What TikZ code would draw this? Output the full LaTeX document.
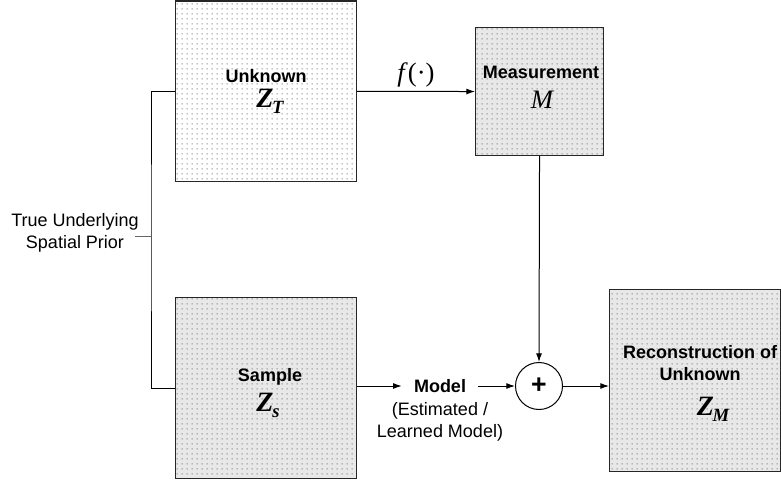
\documentclass[tikz,border=0pt]{standalone}
\usepackage{fontspec}
\setmainfont{Liberation Sans}
\newfontfamily\serifit{Liberation Serif}
\usetikzlibrary{arrows.meta,patterns}

% fine dot screen used inside the blocks
\pgfdeclarepatternformonly{boxdots}{\pgfqpoint{0pt}{0pt}}{\pgfqpoint{3.75pt}{3.75pt}}{\pgfqpoint{3.75pt}{3.75pt}}{%
  \pgfpathrectangle{\pgfqpoint{1.35pt}{1.35pt}}{\pgfqpoint{0.9pt}{0.9pt}}\pgfusepath{fill}}

\newcommand{\bigZ}[1]{{\fontsize{21}{23}\serifit\bfseries\itshape Z\kern-1pt\raisebox{-4.5pt}{\fontsize{14}{14}\selectfont #1}}}

\tikzset{
  block/.style={draw=black!85, line width=0.8pt, preaction={fill=#1},
    pattern=boxdots, pattern color=black!55, inner sep=0pt, anchor=north west},
  lbl/.style={font=\fontsize{13.5}{16}\selectfont, align=center, inner sep=1pt},
  blbl/.style={lbl, font=\fontsize{13.5}{16}\selectfont\bfseries},
  conn/.style={line width=0.75pt, -{Latex[length=6.5pt,width=4.5pt]}},
  wire/.style={line width=0.75pt}
}

\begin{document}
\begin{tikzpicture}[x=0.75pt,y=-0.75pt]
\useasboundingbox (0,0) rectangle (781,481);

% blocks
\node[block=white,   minimum width=135.75pt, minimum height=135.4pt] (unk)  at (175,0.5) {};
\node[block=gray!18, minimum width=96pt,     minimum height=96pt]    (meas) at (475,27)  {};
\node[block=gray!18, minimum width=135.75pt, minimum height=135.75pt] (smp) at (175,297) {};
\node[block=gray!18, minimum width=128.25pt, minimum height=136.5pt] (rec)  at (609,289) {};

% block texts
\node[blbl] (unkT)  at (266,76) {Unknown};
\node[inner sep=0pt] (unkZ) at (270,101) {\bigZ{T}};
\node[blbl] (measT) at (541,72) {Measurement};
\node[inner sep=0pt] (measM) at (542,100) {\fontsize{20}{22}\serifit\itshape M};
\node[blbl] (smpT)  at (270,377) {Sample};
\node[inner sep=0pt] (smpZ) at (268,405) {\bigZ{s}};
\node[blbl, align=center] (recT) at (700,363) {Reconstruction of\\Unknown};
\node[inner sep=0pt] (recZ) at (713,409) {\bigZ{M}};

% left bracket with its label
\node[lbl] (prior) at (75,233) {True Underlying\\Spatial Prior};
\coordinate (brk) at (151,236);
\coordinate (tick) at (135,236);
\draw[wire] (unk.west) -| (brk) |- (smp.west);
\draw[wire, black!60] (tick) -- (brk);

% forward model
\draw[conn] (unk.east) -- node[above=3pt, inner sep=0pt, font=\fontsize{20}{22}\serifit] (fmap) {\itshape f\/\upshape(\textperiodcentered)} (meas.west);

% summing junction
\node[draw, circle, line width=0.75pt, minimum size=35.25pt, inner sep=0pt, fill=white,
      font=\fontsize{20}{22}\selectfont\bfseries] (sum) at (539,386) {+};
\draw[conn] (meas.south) -- (sum.north);

% learned model
\node[blbl, inner sep=9pt] (model) at (440,386) {Model};
\node[lbl] (modelsub) at (440,422) {(Estimated /\\Learned Model)};
\draw[conn] (smp.east |- model.west) -- (model.west);
\draw[conn] (model.east) -- (sum.west);
\draw[conn] (sum.east) -- (sum.east -| rec.west);
\end{tikzpicture}
\end{document}
